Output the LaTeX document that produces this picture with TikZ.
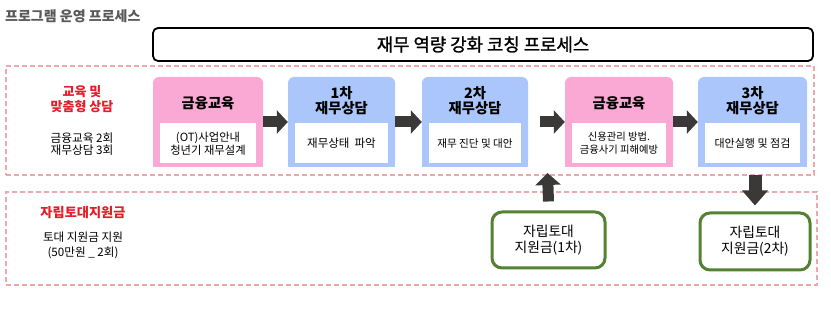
\documentclass[tikz,border=0pt]{standalone}
\usepackage{fontspec}
\setmainfont{Noto Sans CJK KR}
\newfontfamily\krmed[FakeBold=1.3]{Noto Sans CJK KR}
\usetikzlibrary{arrows.meta}
\definecolor{pinkbox}{RGB}{250,168,212}
\definecolor{bluebox}{RGB}{170,198,250}
\definecolor{dashc}{RGB}{240,166,174}
\definecolor{redtxt}{RGB}{226,30,40}
\definecolor{arrowc}{RGB}{59,56,56}
\definecolor{greenc}{RGB}{84,130,53}
\definecolor{graytxt}{RGB}{89,89,89}
\newcommand\mkstep[7]{%
  \node[colbox, fill=#4, minimum width=#3pt] (#1) at (#2,122) {};
  \fill[#4] (#1.west) rectangle (#1.south east);
  \node[innerbox, minimum width=#3pt-14pt, font=\fontsize{#7}{13}\selectfont] (#1i) at (#2,143.5) {#6};
  \node[ttl] (#1t) at (#2,#5) {\smash{\vphantom{X}}};
}
\begin{document}
\begin{tikzpicture}[x=1pt,y=-1pt,
  colbox/.style={rounded corners=6pt, minimum height=90pt, inner sep=0pt},
  innerbox/.style={fill=white, minimum height=40pt, inner sep=0pt, align=center},
  ttl/.style={font=\bfseries\fontsize{14.3}{15.5}\selectfont, align=center, inner sep=0pt},
  blockarrow/.style={line width=11pt, draw=arrowc, -{Triangle[length=11pt,width=23pt]}},
  dashbox/.style={draw=dashc, line width=1.4pt, dash pattern=on 5pt off 3pt, inner sep=0pt},
  greenbox/.style={draw=greenc, line width=3pt, rounded corners=10pt, fill=white, inner sep=0pt, align=center, font=\fontsize{13.8}{16}\selectfont},
  redlbl/.style={text=redtxt, font=\bfseries\fontsize{13}{15}\selectfont, align=center, inner sep=0pt},
  note/.style={align=center, inner sep=0pt}
]
\useasboundingbox (0,0) rectangle (831,310);

% page title
\node[anchor=west, text=graytxt, font=\bfseries\fontsize{14}{15}\selectfont, inner sep=0pt] (title) at (5,16) {프로그램 운영 프로세스};

% header
\node[draw, line width=1.8pt, rounded corners=5pt, minimum width=660pt, minimum height=33pt, inner sep=0pt,
      font=\krmed\fontsize{17.8}{19}\selectfont] (hdr) at (483,44.5) {재무 역량 강화 코칭 프로세스};

% dashed frames
\node[dashbox, minimum width=808pt, minimum height=109pt] (topframe) at (410,120.5) {};
\node[dashbox, minimum width=811pt, minimum height=93pt] (botframe) at (411.5,238.5) {};

% left labels
\node[redlbl] (lbl1) at (82,99.5) {교육 및\\맞춤형 상담};
\node[note, font=\fontsize{11.7}{12.5}\selectfont] (lbl1b) at (82,144) {금융교육 2회\\재무상담 3회};
\node[redlbl, font=\bfseries\fontsize{13.2}{15}\selectfont] (lbl2) at (83,213) {자립토대지원금};
\node[note, font=\fontsize{11.6}{15}\selectfont] (lbl2b) at (83,245.5) {토대 지원금 지원\\(50만원 \_ 2회)};

% steps
\mkstep{b1}{208}{110}{pinkbox}{103}{(OT)사업안내\\청년기 재무설계}{11.3}
\node[ttl] at (b1t) {금융교육};
\mkstep{b2}{341.5}{107}{bluebox}{100.5}{재무상태\ \ 파악}{11.5}
\node[ttl] at (b2t) {1차\\재무상담};
\mkstep{b3}{475}{106}{bluebox}{100.5}{재무 진단 및 대안}{10.6}
\node[ttl] at (b3t) {2차\\재무상담};
\mkstep{b4}{619}{108}{pinkbox}{103}{신용관리 방법.\\금융사기 피해예방}{10.3}
\node[ttl] at (b4t) {금융교육};
\mkstep{b5}{752.5}{109}{bluebox}{100.5}{대안실행 및 점검}{11}
\node[ttl] at (b5t) {3차\\재무상담};

% horizontal arrows
\draw[blockarrow] (b1.east) -- (b2.west);
\draw[blockarrow] (b2.east) -- (b3.west);
\draw[blockarrow] ([xshift=12pt]b3.east) -- (b4.west);
\draw[blockarrow] (b4.east) -- (b5.west);

% green boxes
\node[greenbox, minimum width=113pt, minimum height=56pt] (g1) at (548.5,240) {자립토대\\지원금(1차)};
\node[greenbox, minimum width=110pt, minimum height=57pt] (g2) at (755,241.5) {자립토대\\지원금(2차)};

% vertical arrows
\coordinate (uptip) at (547.5,173);
\draw[blockarrow, -{Triangle[length=12pt,width=25pt]}] ([yshift=9pt]g1.north) -- (uptip);
\coordinate (dnstart) at (755,175);
\draw[blockarrow, line width=13pt, -{Triangle[length=15pt,width=25pt]}] (dnstart) -- ([yshift=6pt]g2.north);
\end{tikzpicture}
\end{document}
